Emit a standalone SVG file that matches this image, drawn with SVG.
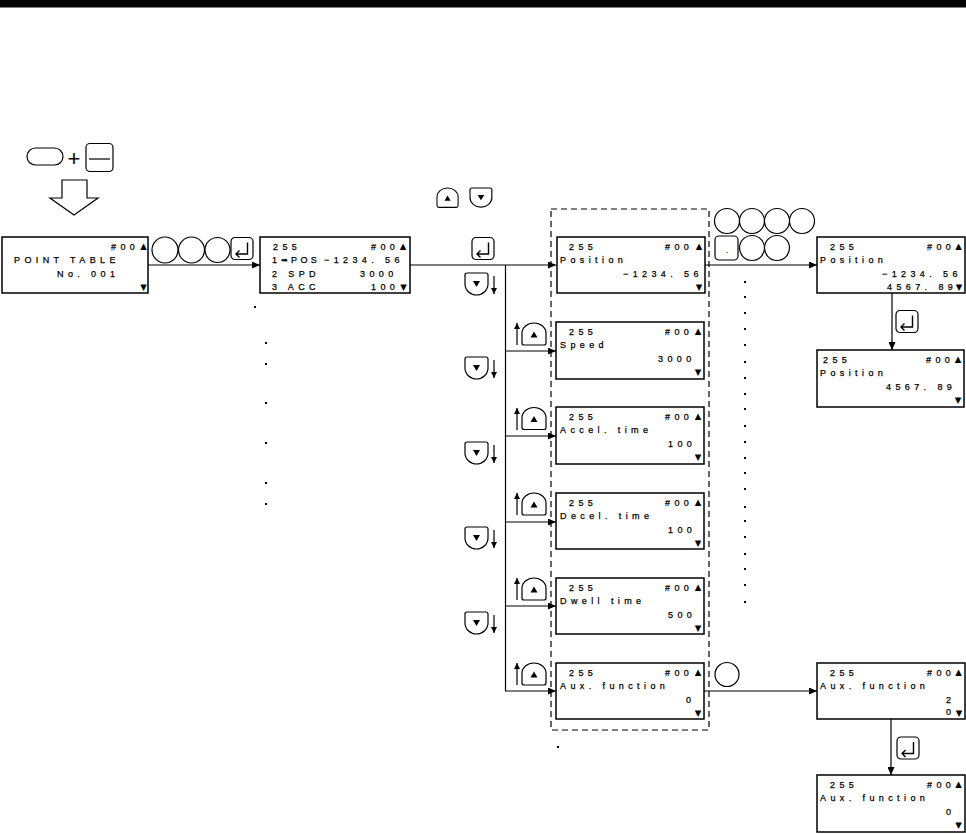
<svg xmlns="http://www.w3.org/2000/svg" xmlns:xlink="http://www.w3.org/1999/xlink" width="966" height="834" viewBox="0 0 966 834">
<style>
.lcd{fill:#fff;stroke:#000;stroke-width:1.5}
.t{font-family:"Liberation Sans","DejaVu Sans",sans-serif;font-size:9px;letter-spacing:4.4px;fill:#000;stroke:#000;stroke-width:0.25}
.ind{font-family:"DejaVu Sans",sans-serif;font-size:8.5px;fill:#000;text-anchor:middle}
.key{fill:#fff;stroke:#000;stroke-width:1.2}
.ck{fill:#fff;stroke:#000;stroke-width:1.2}
.ln{fill:none;stroke:#000;stroke-width:1.2}
.sl{fill:none;stroke:#000;stroke-width:1.2}
.dot{fill:#000}
.dash{fill:none;stroke:#000;stroke-width:1.2;stroke-dasharray:6 4}
</style>
<defs>
<marker id="ah" markerUnits="userSpaceOnUse" markerWidth="8" markerHeight="7" refX="8" refY="3.5" orient="auto"><path d="M0,0 L8,3.5 L0,7 Z" fill="#000"/></marker>
<marker id="sa" markerUnits="userSpaceOnUse" markerWidth="6" markerHeight="6" refX="6" refY="3" orient="auto"><path d="M0,0 L6,3 L0,6 Z" fill="#000"/></marker>
<g id="kUp"><path class="key" d="M2,22 H22 Q24,22 24,20 V10 A12,10 0 0 0 0,10 V20 Q0,22 2,22 Z"/><polygon points="12,8.5 15.5,14.5 8.5,14.5" fill="#000"/></g>
<g id="kDn"><path class="key" d="M2,0 H21 Q23,0 23,2 V11 A11.5,11 0 0 1 0,11 V2 Q0,0 2,0 Z"/><polygon points="8,8 15,8 11.5,14" fill="#000"/></g>
<g id="kEnt"><rect class="key" x="0" y="0" width="22" height="22" rx="4"/><path d="M16.5,5 V16.5 H5 M8.5,13 L5,16.5 L8.5,20" fill="none" stroke="#000" stroke-width="1.4"/></g>
</defs>

<rect x="0" y="0" width="966" height="7.5" fill="#000"/>

<g id="start-keys">
<rect class="key" x="27" y="148" width="36" height="17" rx="8.5"/>
<text x="74" y="166" font-family="Liberation Sans,sans-serif" font-size="22" text-anchor="middle">+</text>
<rect class="key" x="86" y="143.5" width="27" height="28" rx="4"/>
<line x1="89" y1="159" x2="110" y2="159" stroke="#000" stroke-width="1.2"/>
<polygon class="key" points="62,180 87,180 87,198 98,198 74,215 50,198 62,198"/>
</g>

<g id="node-pointtable">
<rect class="lcd" x="2" y="237" width="146" height="56"/>
<text class="t" x="111" y="250">#00</text>
<text class="ind" x="143.5" y="249">▲</text>
<text class="t" x="14" y="262.5">POINT TABLE</text>
<text class="t" x="57" y="276.5">No. 001</text>
<text class="ind" x="143.5" y="289.5">▼</text>
</g>

<g id="keys-number">
<circle class="ck" cx="165" cy="250" r="13"/>
<circle class="ck" cx="191.5" cy="250" r="13"/>
<circle class="ck" cx="217.5" cy="250" r="12.5"/>
<use xlink:href="#kEnt" x="231" y="237.5"/>
</g>

<g id="node-list">
<rect class="lcd" x="260" y="237" width="150" height="56"/>
<text class="t" x="273" y="250">255</text>
<text class="t" x="371" y="250">#00</text>
<text class="ind" x="403" y="249">▲</text>
<text class="t" x="272" y="263">1</text>
<text x="281" y="263" font-family="DejaVu Sans,sans-serif" font-size="8">➡</text>
<text class="t" x="291" y="263" style="letter-spacing:3.4px">POS</text>
<text class="t" x="324" y="263">−1234. 56</text>
<text class="t" x="272" y="276.5">2 SPD</text>
<text class="t" x="360" y="276.5">3000</text>
<text class="t" x="272" y="289.5">3 ACC</text>
<text class="t" x="371" y="289.5">100</text>
<text class="ind" x="403.5" y="289.5">▼</text>
</g>

<g id="keys-updown-top">
<use xlink:href="#kUp" transform="translate(437,188) scale(0.88)"/>
<use xlink:href="#kDn" transform="translate(470,188) scale(0.95,0.87)"/>
<use xlink:href="#kEnt" x="472" y="237.5"/>
</g>

<rect class="dash" x="551" y="209" width="158" height="521"/>

<g id="node-position">
<rect class="lcd" x="557" y="237" width="148" height="56"/>
<text class="t" x="569" y="250">255</text>
<text class="t" x="665" y="250">#00</text>
<text class="ind" x="699" y="249">▲</text>
<text class="t" x="560" y="262.5">Position</text>
<text class="t" x="623" y="276.5">−1234. 56</text>
<text class="ind" x="699" y="289.5">▼</text>
</g>

<g id="node-speed">
<rect class="lcd" x="556" y="322" width="148" height="57"/>
<text class="t" x="569" y="335">255</text>
<text class="t" x="665" y="335">#00</text>
<text class="ind" x="698" y="334">▲</text>
<text class="t" x="560" y="347.5">Speed</text>
<text class="t" x="658" y="361.5">3000</text>
<text class="ind" x="698" y="374.5">▼</text>
</g>

<g id="node-accel">
<rect class="lcd" x="556" y="407" width="148" height="57"/>
<text class="t" x="569" y="420">255</text>
<text class="t" x="665" y="420">#00</text>
<text class="ind" x="698" y="419">▲</text>
<text class="t" x="560" y="432.5">Accel. time</text>
<text class="t" x="668" y="446.5">100</text>
<text class="ind" x="698" y="459.5">▼</text>
</g>

<g id="node-decel">
<rect class="lcd" x="556" y="493" width="148" height="56"/>
<text class="t" x="569" y="506">255</text>
<text class="t" x="665" y="506">#00</text>
<text class="ind" x="698" y="505">▲</text>
<text class="t" x="560" y="518.5">Decel. time</text>
<text class="t" x="668" y="532.5">100</text>
<text class="ind" x="698" y="545.5">▼</text>
</g>

<g id="node-dwell">
<rect class="lcd" x="556" y="578" width="148" height="56"/>
<text class="t" x="569" y="591">255</text>
<text class="t" x="665" y="591">#00</text>
<text class="ind" x="698" y="590">▲</text>
<text class="t" x="560" y="603.5">Dwell time</text>
<text class="t" x="668" y="617.5">500</text>
<text class="ind" x="698" y="630.5">▼</text>
</g>

<g id="node-aux">
<rect class="lcd" x="556" y="663" width="148" height="56"/>
<text class="t" x="569" y="676">255</text>
<text class="t" x="665" y="676">#00</text>
<text class="ind" x="698" y="675">▲</text>
<text class="t" x="560" y="688.5">Aux. function</text>
<text class="t" x="686" y="702.5">0</text>
<text class="ind" x="698" y="715.5">▼</text>
</g>

<g id="keys-side">
<use xlink:href="#kDn" x="465" y="273"/>
<use xlink:href="#kDn" x="465" y="357"/>
<use xlink:href="#kDn" x="465" y="442"/>
<use xlink:href="#kDn" x="465" y="527"/>
<use xlink:href="#kDn" x="465" y="612"/>
<use xlink:href="#kUp" x="522" y="323"/>
<use xlink:href="#kUp" x="522" y="407.5"/>
<use xlink:href="#kUp" x="522" y="493"/>
<use xlink:href="#kUp" x="522" y="578"/>
<use xlink:href="#kUp" x="522" y="663"/>
<line class="sl" x1="494" y1="276" x2="494" y2="294" marker-end="url(#sa)"/>
<line class="sl" x1="494" y1="360" x2="494" y2="378" marker-end="url(#sa)"/>
<line class="sl" x1="494" y1="445" x2="494" y2="463" marker-end="url(#sa)"/>
<line class="sl" x1="494" y1="530" x2="494" y2="548" marker-end="url(#sa)"/>
<line class="sl" x1="494" y1="615" x2="494" y2="633" marker-end="url(#sa)"/>
<line class="sl" x1="517" y1="345" x2="517" y2="323" marker-end="url(#sa)"/>
<line class="sl" x1="517" y1="430" x2="517" y2="408" marker-end="url(#sa)"/>
<line class="sl" x1="517" y1="515" x2="517" y2="493" marker-end="url(#sa)"/>
<line class="sl" x1="517" y1="600" x2="517" y2="578" marker-end="url(#sa)"/>
<line class="sl" x1="517" y1="685" x2="517" y2="663" marker-end="url(#sa)"/>
</g>

<g id="keys-entry">
<circle class="ck" cx="727" cy="221" r="12.5"/>
<circle class="ck" cx="752" cy="221" r="12.5"/>
<circle class="ck" cx="777" cy="221" r="12.5"/>
<circle class="ck" cx="802" cy="221" r="12.5"/>
<rect class="key" x="715" y="236" width="23" height="24" rx="4"/>
<text x="727" y="253" font-family="Liberation Sans,sans-serif" font-size="9" text-anchor="middle">.</text>
<circle class="ck" cx="752" cy="248" r="12.5"/>
<circle class="ck" cx="777" cy="248" r="12.5"/>
<circle class="ck" cx="727" cy="674.5" r="12"/>
<use xlink:href="#kEnt" x="896" y="310.5"/>
<use xlink:href="#kEnt" x="897" y="737"/>
</g>

<g id="node-position-new">
<rect class="lcd" x="817" y="237" width="148" height="56"/>
<text class="t" x="830" y="250">255</text>
<text class="t" x="927" y="250">#00</text>
<text class="ind" x="958.5" y="249">▲</text>
<text class="t" x="820" y="262.5">Position</text>
<text class="t" x="882" y="276.5">−1234. 56</text>
<text class="t" x="887" y="289.5">4567. 89</text>
<text class="ind" x="959" y="290">▼</text>
</g>

<g id="node-position-set">
<rect class="lcd" x="817" y="350" width="147" height="57"/>
<text class="t" x="823" y="363">255</text>
<text class="t" x="926" y="363">#00</text>
<text class="ind" x="958" y="362">▲</text>
<text class="t" x="820" y="375.5">Position</text>
<text class="t" x="886" y="389.5">4567. 89</text>
<text class="ind" x="958" y="402.5">▼</text>
</g>

<g id="node-aux-new">
<rect class="lcd" x="817" y="663" width="148" height="56"/>
<text class="t" x="830" y="676">255</text>
<text class="t" x="927" y="676">#00</text>
<text class="ind" x="958.5" y="675">▲</text>
<text class="t" x="820" y="688.5">Aux. function</text>
<text class="t" x="946" y="702.5">2</text>
<text class="t" x="946" y="715">0</text>
<text class="ind" x="959" y="715.5">▼</text>
</g>

<g id="node-aux-set">
<rect class="lcd" x="817" y="775" width="148" height="57"/>
<text class="t" x="830" y="788">255</text>
<text class="t" x="927" y="788">#00</text>
<text class="ind" x="958.5" y="787">▲</text>
<text class="t" x="820" y="800.5">Aux. function</text>
<text class="t" x="946" y="814.5">0</text>
<text class="ind" x="958.5" y="827.5">▼</text>
</g>

<g id="connectors">
<line class="ln" x1="148" y1="265" x2="260" y2="265" marker-end="url(#ah)"/>
<line class="ln" x1="410" y1="265" x2="556" y2="265" marker-end="url(#ah)"/>
<polyline class="ln" points="505.5,265 505.5,691 556,691" marker-end="url(#ah)"/>
<line class="ln" x1="505.5" y1="351" x2="556" y2="351" marker-end="url(#ah)"/>
<line class="ln" x1="505.5" y1="436" x2="556" y2="436" marker-end="url(#ah)"/>
<line class="ln" x1="505.5" y1="522" x2="556" y2="522" marker-end="url(#ah)"/>
<line class="ln" x1="505.5" y1="606" x2="556" y2="606" marker-end="url(#ah)"/>
<line class="ln" x1="705" y1="265" x2="817" y2="265" marker-end="url(#ah)"/>
<line class="ln" x1="892" y1="293" x2="892" y2="350" marker-end="url(#ah)"/>
<line class="ln" x1="704" y1="691" x2="817" y2="691" marker-end="url(#ah)"/>
<line class="ln" x1="891" y1="719" x2="891" y2="775" marker-end="url(#ah)"/>
</g>

<g id="dots">
<rect class="dot" x="254" y="306" width="2" height="2"/>
<rect class="dot" x="265" y="342" width="2" height="2"/>
<rect class="dot" x="265" y="363" width="2" height="2"/>
<rect class="dot" x="265" y="402" width="2" height="2"/>
<rect class="dot" x="265" y="442" width="2" height="2"/>
<rect class="dot" x="265" y="482" width="2" height="2"/>
<rect class="dot" x="265" y="503" width="2" height="2"/>
<rect class="dot" x="557" y="746" width="2" height="2"/>
<rect class="dot" x="744" y="281" width="2" height="2"/>
<rect class="dot" x="744" y="296" width="2" height="2"/>
<rect class="dot" x="744" y="312" width="2" height="2"/>
<rect class="dot" x="744" y="328" width="2" height="2"/>
<rect class="dot" x="744" y="344" width="2" height="2"/>
<rect class="dot" x="744" y="361" width="2" height="2"/>
<rect class="dot" x="744" y="377" width="2" height="2"/>
<rect class="dot" x="744" y="393" width="2" height="2"/>
<rect class="dot" x="744" y="408" width="2" height="2"/>
<rect class="dot" x="744" y="425" width="2" height="2"/>
<rect class="dot" x="744" y="441" width="2" height="2"/>
<rect class="dot" x="744" y="457" width="2" height="2"/>
<rect class="dot" x="744" y="472" width="2" height="2"/>
<rect class="dot" x="744" y="488" width="2" height="2"/>
<rect class="dot" x="744" y="506" width="2" height="2"/>
<rect class="dot" x="744" y="520" width="2" height="2"/>
<rect class="dot" x="744" y="536" width="2" height="2"/>
<rect class="dot" x="744" y="553" width="2" height="2"/>
<rect class="dot" x="744" y="568" width="2" height="2"/>
<rect class="dot" x="744" y="584" width="2" height="2"/>
<rect class="dot" x="744" y="601" width="2" height="2"/>
</g>
</svg>
